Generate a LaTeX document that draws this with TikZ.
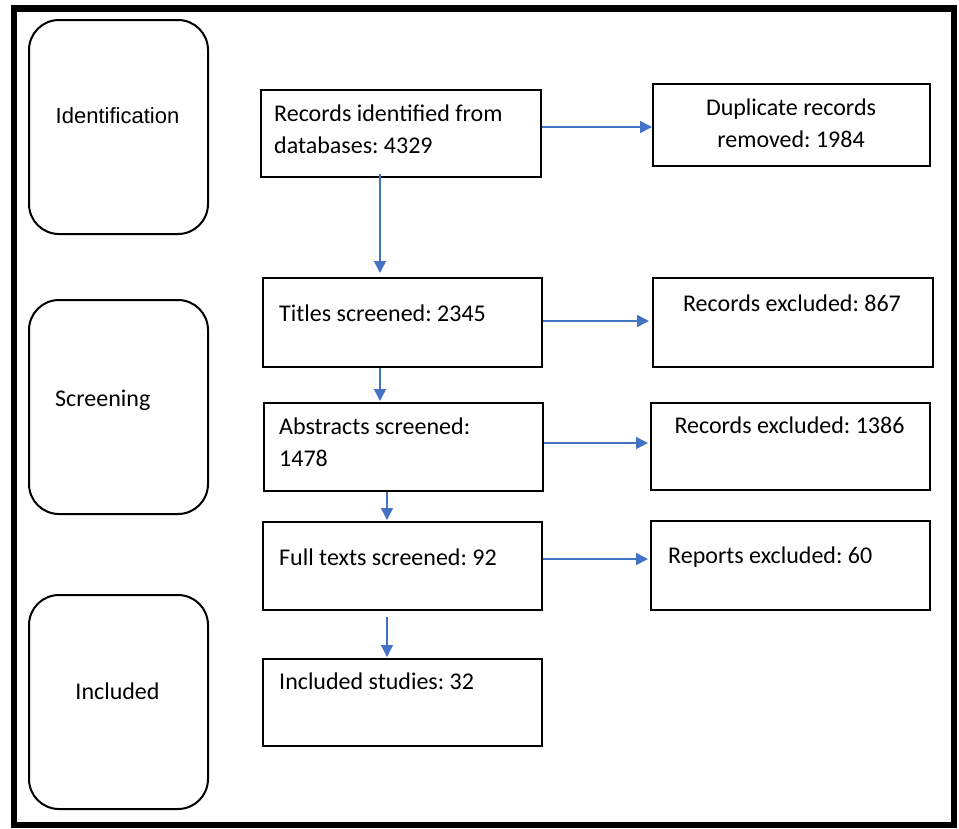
\documentclass[tikz,border=0pt]{standalone}
\usepackage{fontspec}
\setmainfont{Carlito}
\newfontfamily\arialfont{Liberation Sans}
\usetikzlibrary{arrows.meta,calc}
\definecolor{arrblue}{RGB}{68,114,196}
\frenchspacing
\begin{document}
\begin{tikzpicture}[x=1pt,y=-1pt,
  box/.style={draw,line width=2pt,inner sep=0pt,anchor=north west},
  phase/.style={draw,line width=2pt,inner sep=0pt,anchor=north west,rounded corners=30pt,minimum width=179pt,minimum height=214pt},
  arr/.style={draw=arrblue,line width=1.6pt,-{Triangle[width=12pt,length=12pt]}},
  txt/.style={anchor=base west,inner sep=0pt,font=\fontsize{24}{32}\selectfont},
  ctxt/.style={anchor=base,inner sep=0pt,font=\fontsize{24}{32}\selectfont}]
\useasboundingbox (0,0) rectangle (959,828);
\draw[line width=6.5pt] (14,8.5) rectangle (954,825);
% phase boxes
\node[phase] (idn) at (28,19) {};
\node[phase] (scr) at (28,299) {};
\node[phase] (inl) at (28,594) {};
\node[anchor=base,inner sep=0pt,font=\arialfont\fontsize{22}{26}\selectfont] (idntxt) at (117.5,123) {Identification};
\node[txt] (scrtxt) at (55,406) {Screening};
\node[ctxt] (inltxt) at (117.5,699) {Included};
% main boxes
\node[box,minimum width=280pt,minimum height=87pt] (rec) at (260,89) {};
\node[box,minimum width=279pt,minimum height=89pt] (tit) at (262,277) {};
\node[box,minimum width=279pt,minimum height=88pt] (abs) at (263,402) {};
\node[box,minimum width=279pt,minimum height=88pt] (ful) at (262,521) {};
\node[box,minimum width=279pt,minimum height=87pt] (inc) at (262,658) {};
% side boxes
\node[box,minimum width=277pt,minimum height=82pt] (dup) at (652,83) {};
\node[box,minimum width=280pt,minimum height=89pt] (ex1) at (652,277) {};
\node[box,minimum width=279pt,minimum height=87pt] (ex2) at (650,402) {};
\node[box,minimum width=279pt,minimum height=89pt] (rep) at (650,520) {};
% texts
\node[txt] (rect1) at (274,121) {Records identified from};
\node[txt] (rect2) at (274,153) {databases: 4329};
\node[txt] (titt) at (279,321) {Titles screened: 2345};
\node[txt] (abst1) at (279,434) {Abstracts screened:};
\node[txt] (abst2) at (279,466) {1478};
\node[txt] (fult) at (279,565) {Full texts screened: 92};
\node[txt] (inct) at (279,689) {Included studies: 32};
\node[ctxt] (dupt1) at (791,115) {Duplicate records};
\node[ctxt] (dupt2) at (791,147) {removed: 1984};
\node[ctxt] (ex1t) at (792,311) {Records excluded: 867};
\node[ctxt] (ex2t) at (789.5,433) {Records excluded: 1386};
\node[txt] (rept) at (668,563) {Reports excluded: 60};
% arrows
\draw[arr] (rec.east |- 0,127) -- (dup.west |- 0,127);
\draw[arr] (tit.east |- 0,321) -- ([xshift=-3pt]ex1.west |- 0,321);
\draw[arr] (abs.east |- 0,443) -- ([xshift=-2pt]ex2.west |- 0,443);
\draw[arr] (ful.east |- 0,559) -- ([xshift=-2pt]rep.west |- 0,559);
\draw[arr] (rec.south -| 380,0) ++(0,-4) -- ([yshift=4pt]tit.north -| 380,0);
\draw[arr] (tit.south -| 380,0) -- ([yshift=1pt]abs.north -| 380,0);
\draw[arr] (abs.south -| 387,0) -- ([yshift=1pt]ful.north -| 387,0);
\draw[arr] (ful.south -| 387,0) ++(0,6) -- ([yshift=1pt]inc.north -| 387,0);
\end{tikzpicture}
\end{document}
